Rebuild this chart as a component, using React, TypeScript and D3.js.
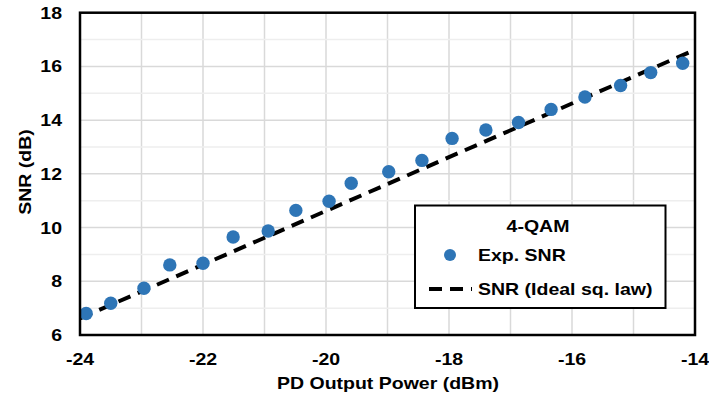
import React from "react";
import * as d3 from "d3";

const expX = [-23.9, -23.5, -22.96, -22.54, -22.0, -21.51, -20.94, -20.49, -19.95, -19.59, -18.98, -18.44, -17.95, -17.4, -16.87, -16.34, -15.79, -15.21, -14.72, -14.2];
const expY = [6.8, 7.18, 7.74, 8.61, 8.67, 9.65, 9.87, 10.64, 10.98, 11.65, 12.08, 12.5, 13.32, 13.63, 13.91, 14.4, 14.86, 15.29, 15.77, 16.12];
const idealX = [-24, -14];
const idealY = [6.62, 16.62];
const xTicks = [-24, -22, -20, -18, -16, -14];
const yTicks = [6, 8, 10, 12, 14, 16, 18];
const xGrid = d3.range(-24, -13, 1);
const yGrid = d3.range(6, 19, 1);

const W = 709, H = 400;
const L = 80, R = 695, T = 12.7, B = 335;
const FONT = "'Liberation Sans', Arial, sans-serif";
const BLUE = "#2e75b6";
const SX = 1.22;

function Txt(props: { x: number; y: number; anchor?: "start" | "middle" | "end"; rotate?: number; children: React.ReactNode }) {
  const { x, y, anchor = "start", rotate = 0, children } = props;
  return (
    <text
      transform={`translate(${x},${y}) rotate(${rotate}) scale(${SX},1)`}
      textAnchor={anchor}
      fontSize={16}
      fontWeight="bold"
      fill="#000"
    >
      {children}
    </text>
  );
}

export default function App() {
  const x = d3.scaleLinear().domain([-24, -14]).range([L, R]);
  const y = d3.scaleLinear().domain([6, 18]).range([B, T]);
  const line = d3.line<[number, number]>().x(d => x(d[0])).y(d => y(d[1]));
  const idealPts: [number, number][] = idealX.map((v, i) => [v, idealY[i]]);
  return (
    <svg width={W} height={H} style={{ position: "absolute", left: 0, top: 0 }} fontFamily={FONT}>
      <rect width={W} height={H} fill="#fff" />
      {xGrid.map(v => (
        <line key={"gx" + v} x1={x(v)} x2={x(v)} y1={T} y2={B} stroke="#d9d9d9" strokeWidth={1.5} />
      ))}
      {yGrid.map(v => (
        <line key={"gy" + v} x1={L} x2={R} y1={y(v)} y2={y(v)} stroke={v % 2 === 0 ? "#d9d9d9" : "#eeeeee"} strokeWidth={1.5} />
      ))}
      <path d={line(idealPts) || ""} fill="none" stroke="#000" strokeWidth={4} strokeDasharray="13 8" />
      {expX.map((v, i) => (
        <circle key={"p" + i} cx={x(v)} cy={y(expY[i])} r={6.7} fill={BLUE} />
      ))}
      <rect x={L} y={T} width={R - L} height={B - T} fill="none" stroke="#000" strokeWidth={2.5} />
      {yTicks.map(v => (
        <Txt key={"yt" + v} x={62} y={y(v) + 6} anchor="end">{v}</Txt>
      ))}
      {xTicks.map(v => (
        <Txt key={"xt" + v} x={x(v)} y={365} anchor="middle">{v}</Txt>
      ))}
      <Txt x={388} y={389} anchor="middle">PD Output Power (dBm)</Txt>
      <Txt x={31} y={172} anchor="middle" rotate={-90}>SNR (dB)</Txt>
      <g>
        <rect x={415} y={205.5} width={250.5} height={102.5} fill="#fff" stroke="#000" strokeWidth={2} />
        <Txt x={538} y={231.5} anchor="middle">4-QAM</Txt>
        <circle cx={450} cy={255} r={6} fill={BLUE} />
        <Txt x={478} y={261}>Exp. SNR</Txt>
        <line x1={429} x2={472} y1={289} y2={289} stroke="#000" strokeWidth={4} strokeDasharray="13 8" />
        <Txt x={478} y={295}>SNR (Ideal sq. law)</Txt>
      </g>
    </svg>
  );
}
